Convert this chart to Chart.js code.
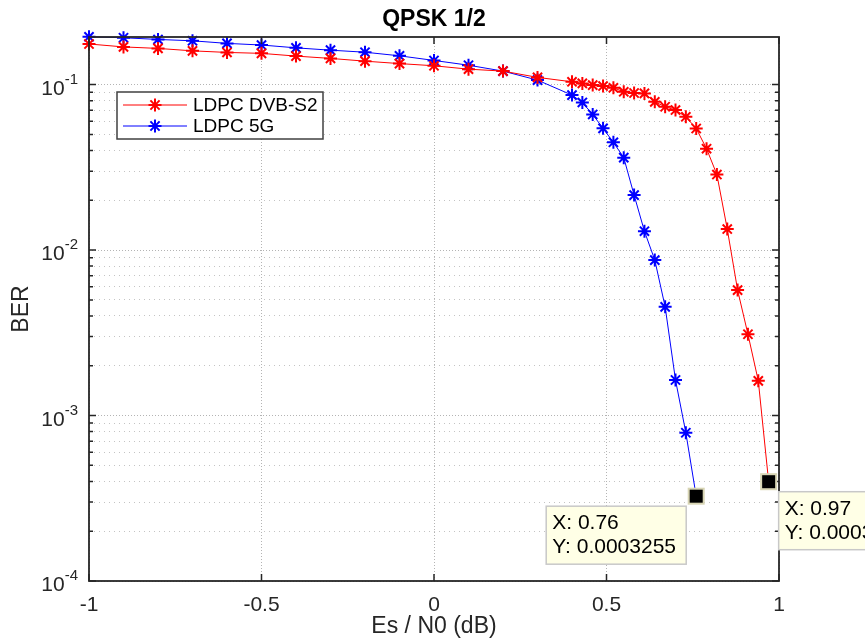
<!DOCTYPE html>
<html>
<head>
<meta charset="utf-8">
<title>QPSK 1/2</title>
<script src="https://cdn.jsdelivr.net/npm/chart.js@4.4.1/dist/chart.umd.min.js"></script>
<style>
  html, body { margin: 0; padding: 0; background: #fff; }
  canvas { display: block; }
</style>
</head>
<body>
<canvas id="berChart" width="865" height="639"></canvas>
<script>
// Es/N0 (dB) sample points
const snrS2 = [-1, -0.9, -0.8, -0.7, -0.6, -0.5, -0.4, -0.3, -0.2, -0.1, 0, 0.1, 0.2, 0.3,
  0.4, 0.43, 0.46, 0.49, 0.52, 0.55, 0.58, 0.61, 0.64, 0.67, 0.70, 0.73, 0.76, 0.79,
  0.82, 0.85, 0.88, 0.91, 0.94, 0.97];
const berS2 = [0.176, 0.169, 0.1655, 0.160, 0.1565, 0.1545, 0.1487, 0.144, 0.1386, 0.134,
  0.130, 0.124, 0.1207, 0.1106, 0.104, 0.1017, 0.0993, 0.098, 0.0957, 0.0905, 0.089,
  0.0885, 0.0787, 0.0735, 0.0702, 0.0639, 0.0543, 0.041, 0.0286, 0.0134, 0.00573,
  0.0031, 0.00162, 0.0003982];

const snr5g = [-1, -0.9, -0.8, -0.7, -0.6, -0.5, -0.4, -0.3, -0.2, -0.1, 0, 0.1, 0.2, 0.3,
  0.4, 0.43, 0.46, 0.49, 0.52, 0.55, 0.58, 0.61, 0.64, 0.67, 0.70, 0.73, 0.76];
const ber5g = [0.1945, 0.192, 0.1875, 0.184, 0.1775, 0.1735, 0.1668, 0.1615, 0.157, 0.1493,
  0.140, 0.131, 0.1207, 0.1065, 0.0864, 0.078, 0.066, 0.0544, 0.0448, 0.0362, 0.0215,
  0.0130, 0.0087, 0.00454, 0.00164, 0.000787, 0.0003255];

const seriesNames = ['LDPC DVB-S2', 'LDPC 5G'];
const seriesColors = ['#ff0000', '#0000ff'];

const xTicks = [-1, -0.5, 0, 0.5, 1];
const xTickLabels = ['-1', '-0.5', '0', '0.5', '1'];
const yDecades = [1e-4, 1e-3, 1e-2, 1e-1];
const yTickExponents = ['-4', '-3', '-2', '-1'];

const tipTexts = [['X: 0.76', 'Y: 0.0003255'], ['X: 0.97', 'Y: 0.0003982']];

const FONT = '"Liberation Sans", Arial, Helvetica, sans-serif';
const AXIS_COLOR = '#262626';

// minor + major log grid positions
const yGrid = [];
yDecades.forEach((d, i) => {
  if (i === yDecades.length - 1) { yGrid.push(d); return; }
  for (let m = 1; m <= 9; m++) yGrid.push(m * d);
});
const isDecade = v => Math.abs(Math.log10(v) - Math.round(Math.log10(v))) < 1e-6;

function toPoints(xs, ys) {
  return xs.map((x, i) => ({ x: x, y: ys[i] }));
}

function drawStar(ctx, x, y, r) {
  ctx.beginPath();
  ctx.moveTo(x - r, y); ctx.lineTo(x + r, y);
  ctx.moveTo(x, y - r); ctx.lineTo(x, y + r);
  const d = r * Math.SQRT1_2;
  ctx.moveTo(x - d, y - d); ctx.lineTo(x + d, y + d);
  ctx.moveTo(x - d, y + d); ctx.lineTo(x + d, y - d);
  ctx.stroke();
}

const matlabAxes = {
  id: 'matlabAxes',
  afterDatasetsDraw(chart) {
    const { ctx, chartArea: a, scales: { x, y } } = chart;
    ctx.save();

    // axes box + inward ticks
    ctx.strokeStyle = AXIS_COLOR;
    ctx.lineWidth = 1.8;
    ctx.strokeRect(a.left, a.top, a.right - a.left, a.bottom - a.top);
    ctx.lineWidth = 1.5;
    ctx.beginPath();
    xTicks.forEach(v => {
      const px = x.getPixelForValue(v);
      ctx.moveTo(px, a.bottom); ctx.lineTo(px, a.bottom - 7);
      ctx.moveTo(px, a.top); ctx.lineTo(px, a.top + 7);
    });
    yGrid.forEach(v => {
      const py = y.getPixelForValue(v);
      const len = isDecade(v) ? 7 : 4;
      ctx.moveTo(a.left, py); ctx.lineTo(a.left + len, py);
      ctx.moveTo(a.right, py); ctx.lineTo(a.right - len, py);
    });
    ctx.stroke();

    // tick labels
    ctx.fillStyle = AXIS_COLOR;
    ctx.font = '21px ' + FONT;
    ctx.textAlign = 'center';
    ctx.textBaseline = 'middle';
    xTicks.forEach((v, i) => {
      ctx.fillText(xTickLabels[i], x.getPixelForValue(v), a.bottom + 24);
    });
    yDecades.forEach((v, i) => {
      const py = y.getPixelForValue(v);
      ctx.font = '15px ' + FONT;
      const ew = ctx.measureText(yTickExponents[i]).width;
      ctx.textAlign = 'right';
      ctx.textBaseline = 'alphabetic';
      const right = a.left - 11;
      ctx.fillText(yTickExponents[i], right, py - 1);
      ctx.font = '21px ' + FONT;
      ctx.fillText('10', right - ew, py + 10);
    });

    // axis titles
    ctx.font = '23px ' + FONT;
    ctx.textAlign = 'center';
    ctx.textBaseline = 'middle';
    ctx.fillText('Es / N0 (dB)', (a.left + a.right) / 2, a.bottom + 46);
    ctx.save();
    ctx.translate(22, (a.top + a.bottom) / 2);
    ctx.rotate(-Math.PI / 2);
    ctx.fillText('BER', 0, 0);
    ctx.restore();

    ctx.font = 'bold 23px ' + FONT;
    ctx.fillStyle = '#000';
    ctx.fillText('QPSK 1/2', (a.left + a.right) / 2, 20);

    // legend
    const lx = 117, ly = 92, lw = 206, lh = 47;
    ctx.fillStyle = '#fff';
    ctx.fillRect(lx, ly, lw, lh);
    ctx.strokeStyle = '#404040';
    ctx.lineWidth = 1.5;
    ctx.strokeRect(lx, ly, lw, lh);
    seriesNames.forEach((name, i) => {
      const ry = ly + 13 + i * 21;
      ctx.strokeStyle = seriesColors[i];
      ctx.lineWidth = 1;
      ctx.beginPath();
      ctx.moveTo(lx + 6, ry); ctx.lineTo(lx + 70, ry);
      ctx.stroke();
      ctx.lineWidth = 2;
      drawStar(ctx, lx + 38, ry, 6.5);
      ctx.fillStyle = '#000';
      ctx.font = '19px ' + FONT;
      ctx.textAlign = 'left';
      ctx.textBaseline = 'middle';
      ctx.fillText(name, lx + 76, ry + 1);
    });

    // data tips on the last point of each series
    const tips = [
      { ds: 1, dx: -150, dy: 10 },
      { ds: 0, dx: 10, dy: 10 }
    ];
    tips.forEach((t, i) => {
      const data = chart.data.datasets[t.ds].data;
      const last = data[data.length - 1];
      const px = x.getPixelForValue(last.x);
      const py = y.getPixelForValue(last.y);
      ctx.fillStyle = '#000';
      ctx.fillRect(px - 7.5, py - 7.5, 15, 15);
      ctx.strokeStyle = '#d8d5b4';
      ctx.lineWidth = 2;
      ctx.strokeRect(px - 7.5, py - 7.5, 15, 15);

      const bx = px + t.dx, by = py + t.dy;
      ctx.fillStyle = '#ffffe6';
      ctx.fillRect(bx, by, 140, 58);
      ctx.strokeStyle = '#c8c8c8';
      ctx.lineWidth = 1.5;
      ctx.strokeRect(bx, by, 140, 58);
      ctx.fillStyle = '#000';
      ctx.font = '21px ' + FONT;
      ctx.textAlign = 'left';
      ctx.textBaseline = 'middle';
      ctx.fillText(tipTexts[i][0], bx + 6, by + 17);
      ctx.fillText(tipTexts[i][1], bx + 6, by + 41);
    });

    ctx.restore();
  }
};

const ctx = document.getElementById('berChart').getContext('2d');
const berChart = new Chart(ctx, {
  type: 'line',
  data: {
    datasets: seriesNames.map((name, i) => ({
      label: name,
      data: i === 0 ? toPoints(snrS2, berS2) : toPoints(snr5g, ber5g),
      borderColor: seriesColors[i],
      backgroundColor: seriesColors[i],
      borderWidth: 1,
      pointStyle: 'star',
      pointRadius: 6.5,
      pointBorderWidth: 2,
      pointBorderColor: seriesColors[i],
      tension: 0,
      fill: false,
      clip: false
    }))
  },
  options: {
    responsive: false,
    animation: false,
    events: [],
    layout: { padding: { left: 89, right: 86, top: 37, bottom: 58 } },
    plugins: {
      legend: { display: false },
      title: { display: false },
      tooltip: { enabled: false }
    },
    scales: {
      x: {
        type: 'linear',
        min: -1,
        max: 1,
        afterBuildTicks: scale => { scale.ticks = xTicks.map(v => ({ value: v })); },
        ticks: { display: false },
        grid: { color: '#b4b4b4', lineWidth: 1, drawTicks: false },
        border: { display: false, dash: [1, 2] }
      },
      y: {
        type: 'logarithmic',
        min: 1e-4,
        max: 0.194,
        afterBuildTicks: scale => { scale.ticks = yGrid.map(v => ({ value: v, major: isDecade(v) })); },
        ticks: { display: false },
        grid: {
          color: c => (c.tick && isDecade(c.tick.value)) ? '#b4b4b4' : '#c4c4c4',
          lineWidth: 1,
          drawTicks: false
        },
        border: {
          display: false,
          dash: c => (c.tick && isDecade(c.tick.value)) ? [1, 2] : [1, 4]
        }
      }
    }
  },
  plugins: [matlabAxes]
});
</script>
</body>
</html>
